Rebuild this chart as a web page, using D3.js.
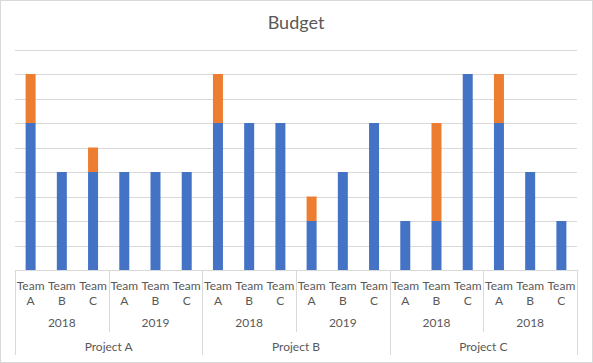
<!DOCTYPE html>
<html><head><meta charset="utf-8">
<script src="https://cdn.jsdelivr.net/npm/d3@7"></script>
<style>body{margin:0;background:#fff}svg{display:block}</style>
</head><body>
<script>
const projects = ["Project A", "Project B", "Project C"];
const years = ["2018", "2019", "2018", "2019", "2018", "2018"];
const teams = ["Team A", "Team B", "Team C"];
const blueValues = [6,4,4, 4,4,4, 6,6,6, 2,4,6, 2,2,8, 6,4,2];
const orangeValues = [2,0,1, 0,0,0, 2,0,0, 1,0,0, 0,4,0, 2,0,0];
const yTicks = [0,1,2,3,4,5,6,7,8,9];

const W = 593, H = 363;
const plotLeft = 15, plotRight = 577, plotTop = 49.5, base = 270;
const font = "Lato, 'Open Sans', sans-serif";
const txt = "#595959", grid = "#D9D9D9";

const cats = d3.range(blueValues.length);
const x = d3.scaleBand().domain(cats).range([plotLeft, plotRight]).padding(0);
const xb = d3.scaleBand().domain(cats).range([plotLeft, plotRight]).paddingInner(0.68).paddingOuter(0.34);
const y = d3.scaleLinear().domain([0, 9]).range([base, plotTop]);

const svg = d3.select("body").append("svg").attr("width", W).attr("height", H);
svg.append("rect").attr("x", 0.5).attr("y", 0.5).attr("width", W-1).attr("height", H-1)
  .attr("fill", "#fff").attr("stroke", grid);

svg.append("text").attr("x", 296).attr("y", 28.5).attr("text-anchor", "middle")
  .attr("font-family", font).attr("font-size", 18).attr("fill", txt).text("Budget");

svg.append("g").selectAll("line").data(yTicks.slice(1)).join("line")
  .attr("x1", plotLeft).attr("x2", plotRight)
  .attr("y1", d => Math.round(y(d)) + 0.5).attr("y2", d => Math.round(y(d)) + 0.5)
  .attr("stroke", grid).attr("stroke-width", 1);

const stack = cats.map(i => ({i, b: blueValues[i], o: orangeValues[i]}));
svg.append("g").selectAll("rect").data(stack).join("rect")
  .attr("x", d => xb(d.i)).attr("width", xb.bandwidth())
  .attr("y", d => y(d.b)).attr("height", d => y(0) - y(d.b)).attr("fill", "#4472C4");
svg.append("g").selectAll("rect").data(stack.filter(d => d.o > 0)).join("rect")
  .attr("x", d => xb(d.i)).attr("width", xb.bandwidth())
  .attr("y", d => y(d.b + d.o)).attr("height", d => y(d.b) - y(d.b + d.o)).attr("fill", "#ED7D31");

// axis baseline
svg.append("line").attr("x1", plotLeft).attr("x2", plotRight).attr("y1", base + 0.5).attr("y2", base + 0.5)
  .attr("stroke", grid);

// team labels
const tl = svg.append("g").attr("font-family", font).attr("font-size", 12).attr("fill", txt).attr("text-anchor", "middle");
cats.forEach(i => {
  const cx = x(i) + x.bandwidth() / 2;
  const parts = teams[i % 3].split(" ");
  tl.append("text").attr("x", cx).attr("y", 290).text(parts[0]);
  tl.append("text").attr("x", cx).attr("y", 304.5).text(parts[1]);
});

// year labels and separators
years.forEach((yr, g) => {
  const x0 = x(g * 3), x1 = x(g * 3 + 2) + x.bandwidth();
  tl.append("text").attr("x", (x0 + x1) / 2).attr("y", 327).text(yr);
  if (g % 2 === 1) {
    svg.append("line").attr("x1", Math.round(x0) + 0.5).attr("x2", Math.round(x0) + 0.5)
      .attr("y1", base).attr("y2", 332).attr("stroke", grid);
  }
});
projects.forEach((p, k) => {
  const x0 = x(k * 6), x1 = x(k * 6 + 5) + x.bandwidth();
  tl.append("text").attr("x", (x0 + x1) / 2).attr("y", 351).text(p);
});
d3.range(projects.length + 1).forEach(k => {
  const xv = k < projects.length ? x(k * 6) : plotRight;
  svg.append("line").attr("x1", Math.round(xv) + 0.5).attr("x2", Math.round(xv) + 0.5)
    .attr("y1", base).attr("y2", 355).attr("stroke", grid);
});
</script>
</body></html>
